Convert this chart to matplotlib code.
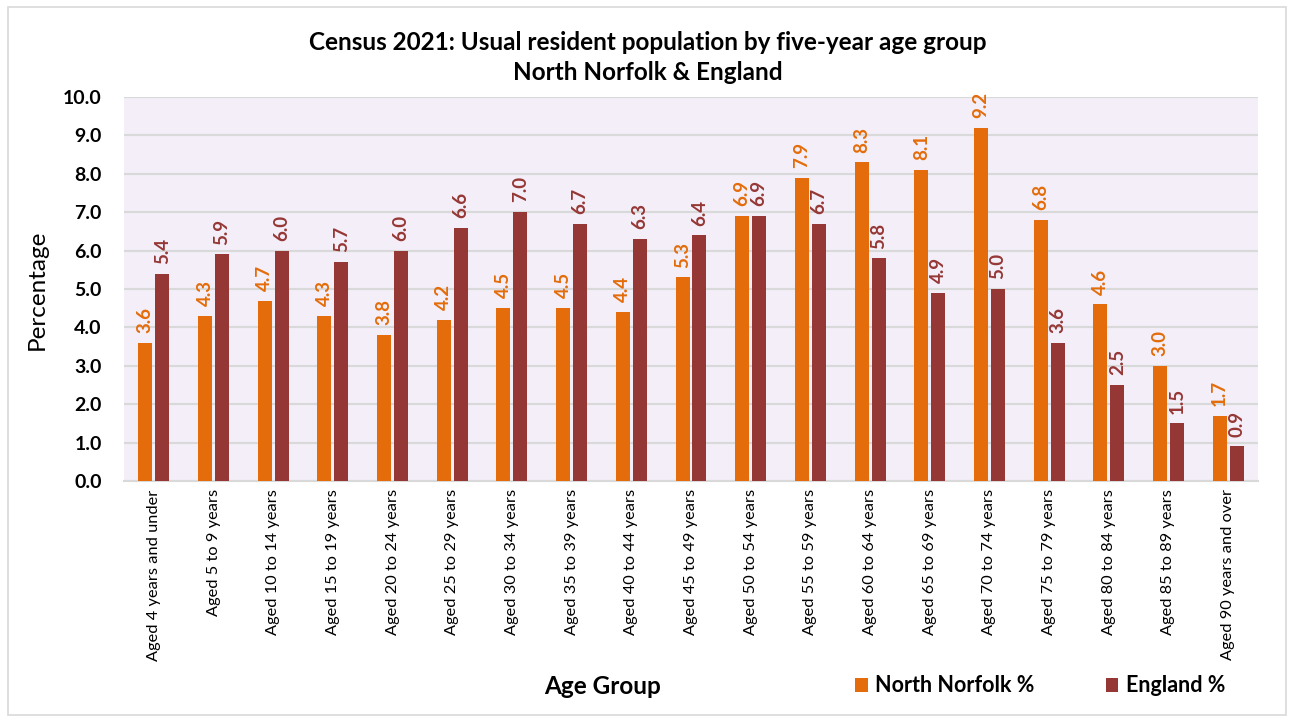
import numpy as np
import matplotlib
matplotlib.use("Agg")
import matplotlib.pyplot as plt
from matplotlib.patches import Rectangle

plt.rcParams['font.family'] = ['Lato', 'DejaVu Sans']

# data
age_groups = ["Aged 4 years and under", "Aged 5 to 9 years", "Aged 10 to 14 years",
              "Aged 15 to 19 years", "Aged 20 to 24 years", "Aged 25 to 29 years",
              "Aged 30 to 34 years", "Aged 35 to 39 years", "Aged 40 to 44 years",
              "Aged 45 to 49 years", "Aged 50 to 54 years", "Aged 55 to 59 years",
              "Aged 60 to 64 years", "Aged 65 to 69 years", "Aged 70 to 74 years",
              "Aged 75 to 79 years", "Aged 80 to 84 years", "Aged 85 to 89 years",
              "Aged 90 years and over"]
north_norfolk = [3.6, 4.3, 4.7, 4.3, 3.8, 4.2, 4.5, 4.5, 4.4, 5.3, 6.9, 7.9, 8.3, 8.1, 9.2, 6.8, 4.6, 3.0, 1.7]
england = [5.4, 5.9, 6.0, 5.7, 6.0, 6.6, 7.0, 6.7, 6.3, 6.4, 6.9, 6.7, 5.8, 4.9, 5.0, 3.6, 2.5, 1.5, 0.9]
y_ticks = np.arange(0, 10.01, 1.0)

orange = "#E46C0A"
red = "#953735"

fig = plt.figure(figsize=(12.94, 7.22), dpi=100)
fig.patches.append(Rectangle((0.006, 0.01), 0.988, 0.98, transform=fig.transFigure,
                             fill=False, edgecolor="#D9D9D9", lw=1.2))
ax = fig.add_axes([124 / 1294, 1 - 481 / 722, (1258 - 124) / 1294, (481 - 97) / 722])
ax.set_facecolor("#F3EEF8")

n = len(age_groups)
x = np.arange(n)
w = 0.235
off = 0.142
b1 = ax.bar(x - off, north_norfolk, w, color=orange, label="North Norfolk %", zorder=3)
b2 = ax.bar(x + off, england, w, color=red, label="England %", zorder=3)

for xi, v in zip(x, north_norfolk):
    ax.annotate(f"{v:.1f}", (xi - off, v), xytext=(0, 7), textcoords="offset points",
                rotation=90, ha="center", va="bottom", color=orange,
                fontsize=13.5, fontweight="bold")
for xi, v in zip(x, england):
    ax.annotate(f"{v:.1f}", (xi + off, v), xytext=(0, 7), textcoords="offset points",
                rotation=90, ha="center", va="bottom", color=red,
                fontsize=13.5, fontweight="bold")

ax.set_xlim(-0.5, n - 0.5)
ax.set_ylim(0, 10)
ax.set_yticks(y_ticks)
ax.set_yticklabels([f"{t:.1f}" for t in y_ticks], fontsize=14, fontweight="bold")
ax.set_xticks(x)
ax.set_xticklabels(age_groups, rotation=90, fontsize=11.8)
ax.tick_params(axis="x", length=0, pad=6)
ax.tick_params(axis="y", length=0, pad=16)
ax.grid(axis="y", color="#D9D9D9", lw=1.5, zorder=0)
for s in ["top", "right", "left"]:
    ax.spines[s].set_visible(False)
ax.spines["bottom"].set_color("#D9D9D9")
ax.spines["bottom"].set_linewidth(1.5)

fig.text(37 / 1294, 1 - 290 / 722, "Percentage", rotation=90, ha="center", va="center",
         fontsize=17.5)
fig.text(603 / 1294, 1 - 686 / 722, "Age Group", ha="center", va="center",
         fontsize=17.5, fontweight="bold")
fig.text(648 / 1294, 1 - 43 / 722, "Census 2021: Usual resident population by five-year age group",
         ha="center", va="center", fontsize=17.5, fontweight="bold")
fig.text(648 / 1294, 1 - 73 / 722, "North Norfolk & England",
         ha="center", va="center", fontsize=17.5, fontweight="bold")

fig.legend(handles=[b1, b2], loc="center", bbox_to_anchor=(1040 / 1294, 1 - 686 / 722),
           ncol=2, frameon=False, prop={"size": 15.5, "weight": "bold"},
           handlelength=0.6, handleheight=0.6, handletextpad=0.35, columnspacing=3.3)

fig.savefig("out.png", dpi=100)
